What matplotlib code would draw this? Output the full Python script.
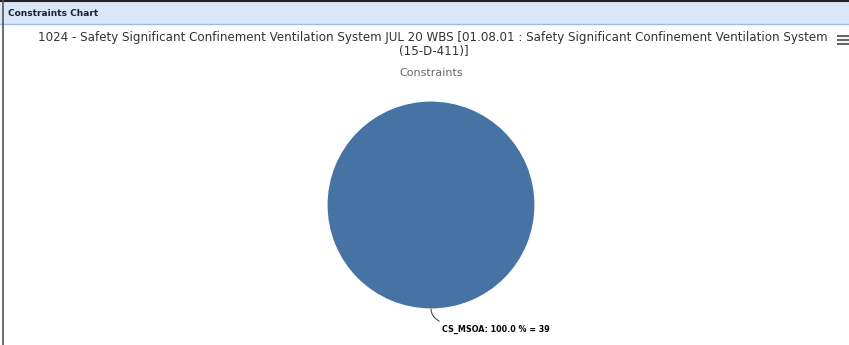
import matplotlib
matplotlib.use("Agg")
import matplotlib.pyplot as plt
from matplotlib.patches import Rectangle
from matplotlib.lines import Line2D

panel_title = "Constraints Chart"
title_line1 = "1024 - Safety Significant Confinement Ventilation System JUL 20 WBS [01.08.01 : Safety Significant Confinement Ventilation System"
title_line2 = "(15-D-411)]"
subtitle = "Constraints"
labels = ["CS_MSOA"]
values = [39]
pie_color = "#4672a4"

W, H = 849, 345
fig = plt.figure(figsize=(W / 100, H / 100), dpi=100)
fig.patch.set_facecolor("white")

def fx(px):
    return px / W

def fy(py):
    return 1 - py / H

# panel header
fig.patches.append(Rectangle((0, fy(24)), 1, 24 / H, transform=fig.transFigure,
                             facecolor="#dae7f8", edgecolor="none"))
fig.lines.append(Line2D([0, 1], [fy(0.5), fy(0.5)], transform=fig.transFigure, color="#222222", lw=1.5))
fig.lines.append(Line2D([0, 1], [fy(24), fy(24)], transform=fig.transFigure, color="#99bbe8", lw=1))
fig.lines.append(Line2D([fx(2.5), fx(2.5)], [0, 1], transform=fig.transFigure, color="#555555", lw=1.2))
fig.text(fx(8), fy(13), panel_title, fontsize=6.5, fontweight="bold", color="#15233b", va="center")

# titles
fig.text(fx(433), fy(38), title_line1, fontsize=8.55, color="#333333", ha="center", va="center")
fig.text(fx(434), fy(52), title_line2, fontsize=8.55, color="#333333", ha="center", va="center")
fig.text(fx(431), fy(73), subtitle, fontsize=8.0, color="#666666", ha="center", va="center")

# menu icon
for yy in (36, 40, 44):
    fig.lines.append(Line2D([fx(838), fx(848)], [fy(yy), fy(yy)], transform=fig.transFigure,
                            color="#666666", lw=1.5))

# pie
r = 104
half = 1.2 * r
ax = fig.add_axes([fx(431 - half), fy(205 + half), 2 * half / W, 2 * half / H])
ax.pie(values, colors=[pie_color], startangle=90, radius=1,
       wedgeprops=dict(edgecolor="white", linewidth=0.8))
ax.set_xlim(-1.2, 1.2)
ax.set_ylim(-1.2, 1.2)
ax.set_aspect("auto")
ax.axis("off")

total = sum(values)
for lab, v in zip(labels, values):
    ax.annotate(f"{lab}: {100 * v / total:.1f} % = {v}", xy=(0.0, -1.0), xytext=(0.11, -1.2),
                fontsize=5.8, fontweight="bold", color="#000000", va="center", ha="left",
                arrowprops=dict(arrowstyle="-", color="#333333", lw=0.7,
                                connectionstyle="angle3,angleA=0,angleB=90",
                                shrinkA=2, shrinkB=0), annotation_clip=False)

fig.savefig("out.png", dpi=100)
